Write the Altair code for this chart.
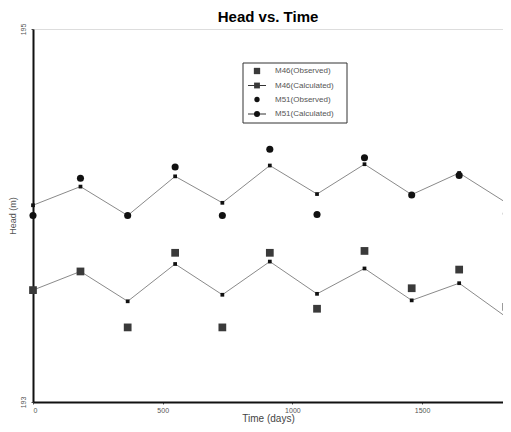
import altair as alt
import pandas as pd

# ---- data ----
days = [0, 183, 365, 548, 730, 913, 1095, 1278, 1460, 1643, 1825]
m46_obs = [193.60, 193.70, 193.40, 193.80, 193.40, 193.80, 193.50, 193.81, 193.61, 193.71, 193.51]
m46_calc = [193.60, 193.70, 193.54, 193.74, 193.575, 193.753, 193.58, 193.716, 193.545, 193.637, 193.455]
m51_obs = [194.00, 194.20, 194.00, 194.26, 194.00, 194.355, 194.005, 194.31, 194.11, 194.215, 194.01]
m51_calc = [194.055, 194.155, 194.00, 194.21, 194.068, 194.268, 194.115, 194.275, 194.112, 194.228, 194.068]

x_ticks = [0, 500, 1000, 1500]
y_ticks = [193, 194, 195]
legend_labels = ["M46(Observed)", "M46(Calculated)", "M51(Observed)", "M51(Calculated)"]

calc = pd.DataFrame({
    "day": days * 2,
    "head": m46_calc + m51_calc,
    "series": ["M46(Calculated)"] * len(days) + ["M51(Calculated)"] * len(days),
})
obs46 = pd.DataFrame({"day": days, "head": m46_obs})
obs51 = pd.DataFrame({"day": days, "head": m51_obs})

xs = alt.Scale(domain=[0, 1812], nice=False, zero=False)
ys = alt.Scale(domain=[193, 195], nice=False, zero=False)

X = alt.X("day:Q", scale=xs, axis=alt.Axis(
    values=x_ticks, format="d", title="Time (days)", grid=False,
    labelFontSize=7, labelColor="#555", labelPadding=2, tickSize=2,
    tickColor="#555", domainColor="#111", domainWidth=2,
    titleFontSize=10, titleFontWeight="normal", titleColor="#444",
    titlePadding=0, labelFont="Liberation Sans", titleFont="Liberation Sans"))
Y = alt.Y("head:Q", scale=ys, axis=alt.Axis(
    values=y_ticks, format="d", title="Head (m)", grid=False,
    labelAngle=270, labelAlign="center", labelBaseline="bottom",
    labelFontSize=7, labelColor="#555", labelPadding=5, tickSize=2,
    tickColor="#555", domainColor="#111", domainWidth=2,
    titleFontSize=9, titleFontWeight="normal", titleColor="#555",
    titlePadding=2, labelFont="Liberation Sans", titleFont="Liberation Sans"))

lines = alt.Chart(calc).mark_line(color="#8a8a8a", strokeWidth=1).encode(
    x=X, y=Y, detail="series:N")
calc_pts = alt.Chart(calc).mark_square(size=14, color="#111", opacity=1).encode(x=X, y=Y)
sq = alt.Chart(obs46).mark_square(size=60, color="#3a3a3a", opacity=1).encode(x=X, y=Y)
circ = alt.Chart(obs51).mark_circle(size=50, color="#111", opacity=1).encode(x=X, y=Y)

# ---- legend (drawn manually) ----
lx0, lx1, ly0, ly1 = 210, 314, 34, 94
row_y = [42, 56.5, 70.5, 85]
box = alt.Chart(pd.DataFrame({"a": [0]})).mark_rect(
    fill="white", stroke="#333", strokeWidth=1).encode(
    x=alt.value(lx0), x2=alt.value(lx1), y=alt.value(ly0), y2=alt.value(ly1))
leg_layers = [box]
for i, lab in enumerate(legend_labels):
    d = pd.DataFrame({"label": [lab]})
    yy = row_y[i]
    if "Calculated" in lab:
        leg_layers.append(alt.Chart(d).mark_rule(color="#333", strokeWidth=1).encode(
            x=alt.value(215), x2=alt.value(233), y=alt.value(yy)))
    if lab.startswith("M46"):
        leg_layers.append(alt.Chart(d).mark_square(
            size=40 if "Observed" in lab else 34, color="#3a3a3a", opacity=1).encode(
            x=alt.value(224), y=alt.value(yy)))
    else:
        leg_layers.append(alt.Chart(d).mark_circle(
            size=28 if "Observed" in lab else 36, color="#111", opacity=1).encode(
            x=alt.value(224), y=alt.value(yy)))
    leg_layers.append(alt.Chart(d).mark_text(
        align="left", baseline="middle", fontSize=8, color="#555",
        font="Liberation Sans").encode(
        text="label:N", x=alt.value(242), y=alt.value(yy)))

chart = alt.layer(lines, calc_pts, sq, circ, *leg_layers).properties(
    width=470, height=373,
    title=alt.TitleParams("Head vs. Time", fontSize=15, font="Liberation Sans",
                          fontWeight="bold", anchor="middle", offset=-2,
                          frame="group", color="#000"),
    autosize=alt.AutoSizeParams(type="none"),
    padding={"left": 25, "top": 21, "right": 0, "bottom": 22},
).configure_view(stroke="#9a9a9a", strokeWidth=1).configure(background="white")

chart.save("out.html", embed_options={"renderer": "svg", "actions": False})
